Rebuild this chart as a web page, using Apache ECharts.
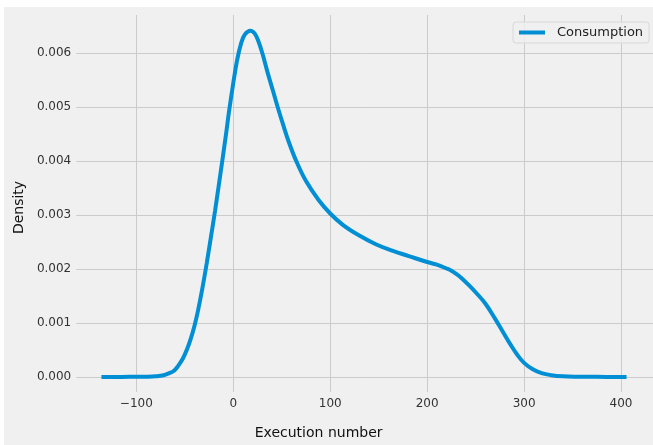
<!DOCTYPE html>
<html>
<head>
<meta charset="utf-8">
<script src="https://cdn.jsdelivr.net/npm/echarts@6/dist/echarts.min.js"></script>
<style>
  html, body { margin: 0; padding: 0; background: #ffffff; width: 653px; height: 445px; overflow: hidden; }
  #chart { position: absolute; left: 4px; top: 7px; width: 649px; height: 438px; }
</style>
</head>
<body>
<div id="chart"></div>
<script>
// Data
const seriesName = 'Consumption';
const xValues = [-136, -115, -100, -90, -80, -72, -66, -61.5, -57, -52, -48, -44, -40, -36.5, -32, -27.3, -23, -18.8, -15, -11, -7.5, -4.4, 0, 4, 8, 12, 17.7, 22, 26, 30, 35, 41, 46, 51, 57, 65, 75, 88, 100, 113, 130, 147, 164, 181, 200, 210, 220, 225, 230, 235, 242, 250, 260, 270, 277, 287, 293, 300, 309, 318, 328, 340, 355, 375, 405.7];
const densityValues = [0, 0.0000003, 0.0000015, 0.000004, 0.000012, 0.00003, 0.00007, 0.00011, 0.0002, 0.00034, 0.0005, 0.0007, 0.00095, 0.00122, 0.00163, 0.00212, 0.0026, 0.00308, 0.00355, 0.00405, 0.0045, 0.00492, 0.00545, 0.00588, 0.00618, 0.00635, 0.00642, 0.00637, 0.00622, 0.006, 0.00567, 0.0053, 0.00499, 0.0047, 0.00437, 0.004, 0.00363, 0.00328, 0.00303, 0.00282, 0.00262, 0.00246, 0.00234, 0.00224, 0.00213, 0.00208, 0.00201, 0.00197, 0.00191, 0.00184, 0.00172, 0.00157, 0.00136, 0.00108, 0.00087, 0.00057, 0.00041, 0.00026, 0.00014, 0.00007, 0.000032, 0.000011, 0.000003, 0.0000005, 0];
const xTicks = [-100, 0, 100, 200, 300, 400];
const yTicks = [0, 0.001, 0.002, 0.003, 0.004, 0.005, 0.006];
const xAxisTitle = 'Execution number';
const yAxisTitle = 'Density';

const seriesData = xValues.map((x, i) => [x, densityValues[i]]);
const font = 'DejaVu Sans';

const chart = echarts.init(document.getElementById('chart'));
chart.setOption({
  backgroundColor: '#f0f0f0',
  animation: false,
  textStyle: { fontFamily: font },
  grid: { left: 68, top: 8, right: 0, height: 377 },
  legend: {
    left: 509, top: 15,
    padding: [4, 6, 4, 6],
    backgroundColor: 'rgba(240,240,240,0.8)',
    borderColor: '#d8d8d8', borderWidth: 1, borderRadius: 3,
    icon: 'rect', itemWidth: 26, itemHeight: 4,
    textStyle: { fontFamily: font, fontSize: 13, color: '#222', padding: [0, 0, 0, 7] },
    data: [seriesName]
  },
  xAxis: {
    type: 'value', min: -162, max: 433,
    name: xAxisTitle, nameLocation: 'middle', nameGap: 34,
    nameTextStyle: { fontFamily: font, fontSize: 14, color: '#111', padding: [0, 92, 0, 0] },
    axisLine: { show: false },
    axisTick: { show: false, customValues: xTicks },
    axisLabel: {
      customValues: xTicks, margin: 6, fontFamily: font, fontSize: 12, color: '#333',
      formatter: v => v < 0 ? '\u2212' + Math.abs(v) : String(v)
    },
    splitLine: { show: true, lineStyle: { color: '#cbcbcb', width: 1 } }
  },
  yAxis: {
    type: 'value', min: -0.00028, max: 0.00671,
    name: yAxisTitle, nameLocation: 'middle', nameGap: 47,
    nameTextStyle: { fontFamily: font, fontSize: 14, color: '#111', padding: [0, 8, 0, 0] },
    axisLine: { show: false },
    axisTick: { show: false, customValues: yTicks },
    axisLabel: {
      customValues: yTicks, margin: 5, fontFamily: font, fontSize: 12, color: '#333',
      formatter: v => v.toFixed(3)
    },
    splitLine: { show: true, lineStyle: { color: '#cbcbcb', width: 1 } }
  },
  series: [{
    name: seriesName, type: 'line', data: seriesData,
    showSymbol: false, smooth: 0.4,
    lineStyle: { color: '#008fd5', width: 4 },
    itemStyle: { color: '#008fd5' }
  }]
});
</script>
</body>
</html>
